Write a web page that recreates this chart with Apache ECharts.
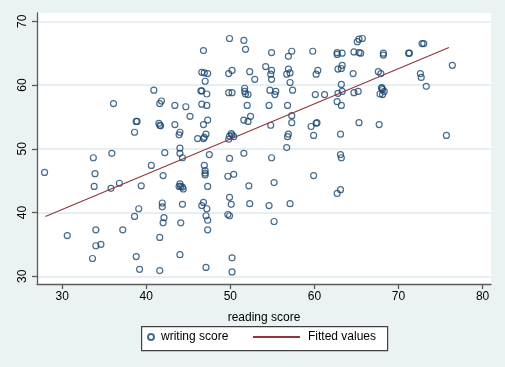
<!DOCTYPE html>
<html>
<head>
<meta charset="utf-8">
<script src="https://cdn.jsdelivr.net/npm/echarts@6/dist/echarts.min.js"></script>
<style>
html,body{margin:0;padding:0;background:#EAF2F3;}
#c{width:505px;height:367px;}
</style>
</head>
<body>
<div id="c"></div>
<script>
const readScore = [27.9,30.6,33.6,33.7,33.9,33.8,34.0,34.0,34.6,35.8,35.9,36.1,36.8,37.2,38.6,38.6,38.8,38.9,38.8,39.1,39.2,39.4,40.6,40.9,41.6,41.8,41.5,41.6,41.7,41.6,41.6,41.9,41.9,42.0,42.1,42.0,42.2,43.4,43.4,43.9,44.0,44.0,44.0,44.3,44.0,44.1,44.3,44.4,43.9,44.3,44.1,44.0,44.7,45.2,46.1,46.5,46.6,46.6,46.6,46.8,46.9,47.0,46.8,46.9,47.1,46.8,46.9,47.0,47.0,47.0,46.8,46.6,47.1,47.2,47.3,47.3,47.1,47.2,47.2,47.3,47.3,47.5,47.3,49.9,49.8,49.8,50.2,50.2,49.9,50.1,50.2,50.4,49.8,49.9,49.7,50.4,49.9,50.1,49.7,49.9,50.2,50.2,51.6,51.8,52.3,51.7,51.7,51.8,52.1,52.0,51.6,52.1,52.4,51.6,52.2,52.3,52.9,54.2,54.9,54.9,54.8,54.9,54.7,55.4,55.3,54.6,54.8,54.9,55.2,54.6,55.2,57.3,56.9,56.9,57.1,56.7,57.1,57.4,56.8,57.3,57.3,56.9,56.8,56.7,57.1,59.8,60.1,60.4,60.2,61.2,59.6,60.2,60.3,59.9,59.9,62.7,62.7,63.3,62.8,63.2,63.3,63.2,62.8,63.3,62.7,63.2,63.1,63.1,63.2,62.7,63.1,64.7,65.1,65.3,65.7,65.3,65.5,64.6,64.7,65.2,65.3,67.6,67.9,68.2,68.2,68.0,68.1,68.0,67.8,68.1,68.3,67.7,71.2,71.3,72.8,73.0,72.6,72.7,73.3,76.4,75.7];
const writeScore = [46.3,36.4,32.8,48.6,46.1,44.1,37.3,34.8,35.0,43.8,49.3,57.1,44.6,37.3,52.6,39.4,54.3,54.3,33.1,40.6,31.1,44.2,47.4,59.2,57.1,57.5,54.0,53.7,53.6,36.1,30.9,41.5,40.9,45.8,39.2,38.4,49.4,56.8,53.8,52.2,52.6,50.1,49.3,48.6,44.5,44.1,44.0,43.7,44.1,41.3,38.4,33.4,56.6,55.1,51.6,59.1,59.1,57.0,62.0,65.4,61.9,60.6,53.8,51.8,52.3,51.6,47.4,46.6,46.2,45.9,41.6,41.1,39.5,40.6,38.8,37.3,31.4,58.6,56.8,54.5,61.8,49.1,44.1,67.3,61.8,58.8,58.8,62.3,52.0,52.4,52.2,51.9,51.5,48.5,45.7,46.0,42.4,41.3,39.7,39.5,32.9,30.7,67.0,65.6,62.1,59.5,59.0,58.6,58.5,56.8,54.5,54.3,55.1,49.3,44.2,41.4,60.9,62.9,65.1,62.3,61.7,60.9,59.2,59.0,58.5,56.8,53.7,48.6,44.7,41.1,38.6,65.3,64.5,62.5,61.9,61.7,60.4,59.2,56.8,55.2,54.1,52.3,51.9,50.2,41.4,65.3,58.5,62.3,61.7,58.5,53.5,54.0,54.1,52.1,45.8,65.1,64.8,65.0,62.5,62.6,63.1,60.1,58.7,59.0,57.4,56.8,52.3,49.1,48.6,43.0,43.6,65.2,66.8,67.2,67.3,65.1,65.0,61.8,58.8,59.0,54.1,62.1,61.8,65.0,64.7,59.5,59.3,59.6,58.6,58.5,59.0,53.8,65.0,65.0,66.5,66.5,61.8,61.2,59.8,63.1,52.1];
const fitX = [28, 76];
const fitY = [39.4, 65.9];
const xTicks = [30, 40, 50, 60, 70, 80];
const yTicks = [30, 40, 50, 60, 70];
const xTitle = 'reading score';
const seriesNames = ['writing score', 'Fitted values'];

const scatterData = readScore.map((r, i) => [r, writeScore[i]]);
const fitData = fitX.map((x, i) => [x, fitY[i]]);

const FONT = 'Liberation Sans, Arial, sans-serif';
const chart = echarts.init(document.getElementById('c'), null, {renderer: 'canvas'});
chart.setOption({
  backgroundColor: '#EAF2F3',
  animation: false,
  textStyle: {fontFamily: FONT},
  grid: {left: 37, right: 14, top: 13, bottom: 83, show: true, backgroundColor: '#ffffff', borderWidth: 0},
  xAxis: {
    type: 'value', min: 27, max: 81,
    name: xTitle, nameLocation: 'middle', nameGap: 28,
    nameTextStyle: {color: '#000', fontSize: 12, fontFamily: FONT},
    axisLine: {show: true, onZero: false, lineStyle: {color: '#5a5a5a', width: 1.3}},
    axisTick: {show: true, length: 5, customValues: xTicks, lineStyle: {color: '#5a5a5a', width: 1.3}},
    axisLabel: {customValues: xTicks, color: '#000', fontSize: 12, margin: 7, fontFamily: FONT},
    splitLine: {show: false}
  },
  yAxis: {
    type: 'value', min: 28.8, max: 71.3,
    axisLine: {show: true, onZero: false, lineStyle: {color: '#5a5a5a', width: 1.3}},
    axisTick: {show: true, length: 5, customValues: yTicks, lineStyle: {color: '#5a5a5a', width: 1.3}},
    axisLabel: {customValues: yTicks, color: '#000', fontSize: 12, margin: 8, rotate: 90, fontFamily: FONT},
    splitLine: {show: true, lineStyle: {color: '#E6EFF1', width: 2}}
  },
  legend: [
    {data: [seriesNames[0]], left: 147, top: 331, padding: 0, itemWidth: 6, itemHeight: 6,
     textStyle: {color: '#000', fontSize: 12, fontFamily: FONT, padding: [0, 0, 0, 2]}},
    {data: [{name: seriesNames[1], itemStyle: {color: 'rgba(0,0,0,0)', borderWidth: 0, opacity: 0}}],
     left: 252, top: 331, padding: 0, itemWidth: 47, itemHeight: 10,
     textStyle: {color: '#000', fontSize: 12, fontFamily: FONT, padding: [0, 0, 0, 3]}}
  ],
  graphic: [{
    type: 'rect', left: 141, top: 326, z: -1,
    shape: {width: 246, height: 24},
    style: {fill: '#ffffff', stroke: '#404040', lineWidth: 1.2}
  }],
  series: [
    {
      name: seriesNames[0], type: 'scatter', data: scatterData,
      symbol: 'circle', symbolSize: 6,
      itemStyle: {color: 'rgba(255,255,255,0)', borderColor: '#1A476F', borderWidth: 1.2}
    },
    {
      name: seriesNames[1], type: 'line', data: fitData,
      symbol: 'none', showSymbol: false,
      lineStyle: {color: '#90353B', width: 1.1},
      itemStyle: {color: '#90353B'}
    }
  ]
});
</script>
</body>
</html>
